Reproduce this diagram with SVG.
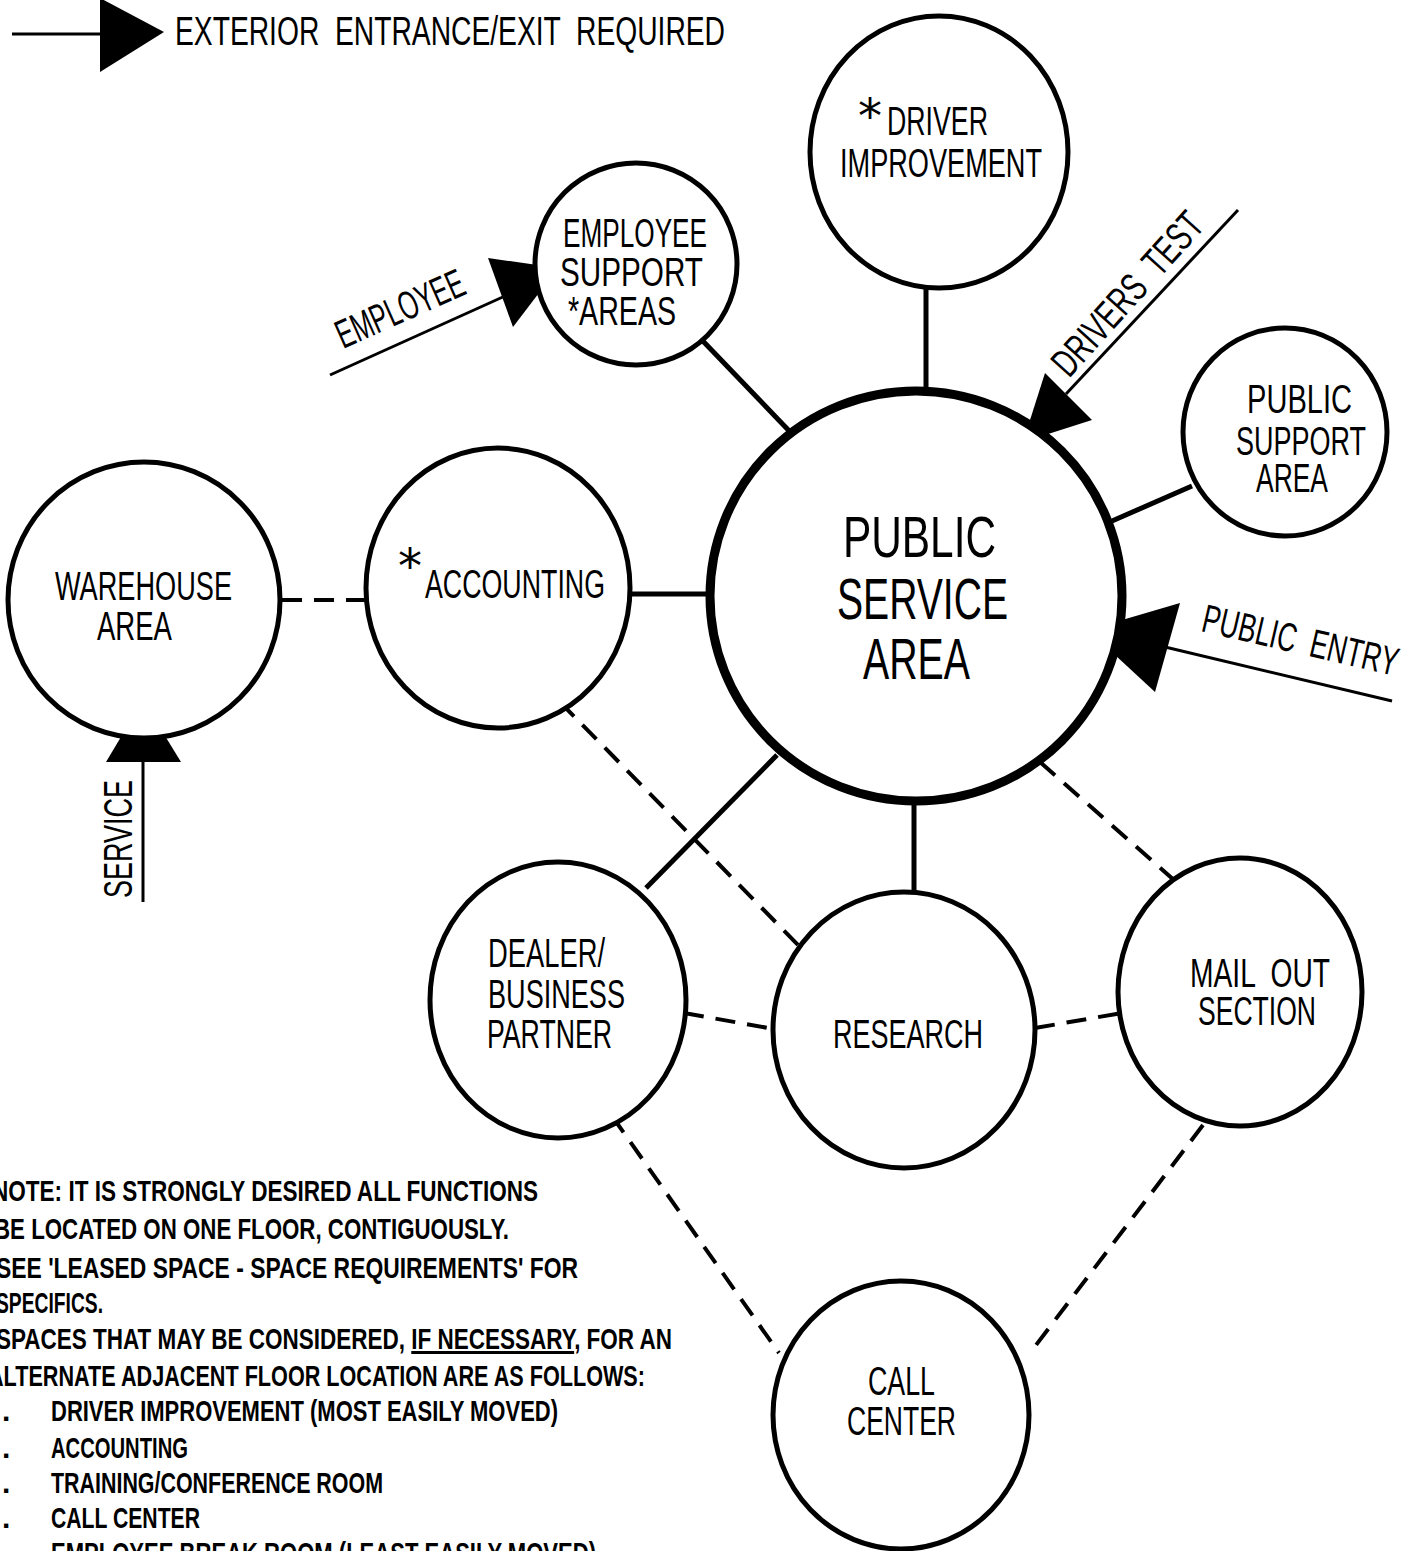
<svg xmlns="http://www.w3.org/2000/svg" width="1420" height="1551" viewBox="0 0 1420 1551">
<style>
.c{fill:#fff;stroke:#000;stroke-width:5}
.big{stroke-width:9}
.t{font-family:"Liberation Sans",Arial,sans-serif;font-size:40px;fill:#000}
.ast{font-family:"DejaVu Sans",sans-serif;font-size:48px;fill:#000}
.pt{font-size:57px}
.n{font-family:"Liberation Sans",Arial,sans-serif;font-size:30px;font-weight:bold;fill:#000}
.s{stroke:#000;stroke-width:5;fill:none}
.d{stroke:#000;stroke-width:4;fill:none;stroke-dasharray:20 12}
.a{stroke:#000;stroke-width:3;fill:none}
.h{fill:#000}
.pre{white-space:pre}
</style>
<rect width="1420" height="1551" fill="#fff"/>

<g id="legend">
<line class="a" x1="12" y1="34" x2="102" y2="34"/>
<polygon class="h" points="100,-2 100,72 164,32"/>
<text class="t pre" x="175" y="45" font-size="38" textLength="550" lengthAdjust="spacingAndGlyphs">EXTERIOR  ENTRANCE/EXIT  REQUIRED</text>
</g>

<g id="connectors">
<line class="s" x1="700" y1="338" x2="795" y2="437"/>
<line class="s" x1="926" y1="286" x2="926" y2="392"/>
<line class="s" x1="1192" y1="486" x2="1112" y2="521"/>
<line class="s" x1="629" y1="594" x2="712" y2="594" stroke-width="7"/>
<line class="s" x1="646" y1="888" x2="777" y2="755"/>
<line class="s" x1="914" y1="893" x2="914" y2="799"/>
<line class="d" x1="282" y1="600" x2="366" y2="600" stroke-dasharray="18 12"/>
<line class="d" x1="560" y1="702" x2="801" y2="948"/>
<line class="d" x1="1040" y1="762" x2="1183" y2="888"/>
<line class="d" x1="684" y1="1013" x2="774" y2="1029"/>
<line class="d" x1="1035" y1="1028" x2="1122" y2="1013"/>
<line class="d" x1="612" y1="1116" x2="779" y2="1353"/>
<line class="d" x1="1203" y1="1125" x2="1030" y2="1353"/>
<!-- exterior entrances -->
<line class="a" x1="330" y1="375" x2="505" y2="296"/>
<polygon class="h" points="488,258 513,327 558,268"/>
<line class="a" x1="1238" y1="210" x2="1066" y2="394"/>
<polygon class="h" points="1045,373 1092,420 1023,442"/>
<line class="a" x1="1392" y1="701" x2="1165" y2="647"/>
<polygon class="h" points="1088,630 1180,603 1155,692"/>
<line class="a" x1="143" y1="902" x2="143" y2="760"/>
<polygon class="h" points="143,700 106,762 181,762"/>
<text class="t" font-size="38" transform="translate(343,349) rotate(-24)" textLength="137" lengthAdjust="spacingAndGlyphs">EMPLOYEE</text>
<text class="t pre" font-size="38" transform="translate(1069,379) rotate(-48)" textLength="205" lengthAdjust="spacingAndGlyphs">DRIVERS  TEST</text>
<text class="t pre" font-size="38" transform="translate(1200,631) rotate(13)" textLength="200" lengthAdjust="spacingAndGlyphs">PUBLIC  ENTRY</text>
<text class="t" transform="translate(132,898) rotate(-90)" textLength="118" lengthAdjust="spacingAndGlyphs">SERVICE</text>
</g>

<g id="driver-improvement">
<ellipse class="c" cx="939" cy="152" rx="129" ry="136"/>
<text class="t" x="858" y="135"><tspan class="ast" y="133">*</tspan><tspan x="887" y="135" textLength="101" lengthAdjust="spacingAndGlyphs">DRIVER</tspan></text>
<text class="t" x="840" y="177" textLength="202" lengthAdjust="spacingAndGlyphs">IMPROVEMENT</text>
</g>

<g id="employee-support">
<ellipse class="c" cx="636" cy="264" rx="101" ry="101"/>
<text class="t" x="563" y="247" textLength="144" lengthAdjust="spacingAndGlyphs">EMPLOYEE</text>
<text class="t" x="560" y="286" textLength="143" lengthAdjust="spacingAndGlyphs">SUPPORT</text>
<text class="t" x="568" y="325" textLength="108" lengthAdjust="spacingAndGlyphs">*AREAS</text>
</g>

<g id="public-support">
<ellipse class="c" cx="1285" cy="432" rx="102" ry="104"/>
<text class="t" x="1247" y="413" textLength="105" lengthAdjust="spacingAndGlyphs">PUBLIC</text>
<text class="t" x="1236" y="455" textLength="130" lengthAdjust="spacingAndGlyphs">SUPPORT</text>
<text class="t" x="1256" y="492" textLength="72" lengthAdjust="spacingAndGlyphs">AREA</text>
</g>

<g id="public-service">
<ellipse class="c big" cx="916" cy="596" rx="206" ry="205"/>
<text class="t pt" x="843" y="557" textLength="153" lengthAdjust="spacingAndGlyphs">PUBLIC</text>
<text class="t pt" x="837" y="619" textLength="171" lengthAdjust="spacingAndGlyphs">SERVICE</text>
<text class="t pt" x="863" y="679" textLength="107" lengthAdjust="spacingAndGlyphs">AREA</text>
</g>

<g id="warehouse">
<ellipse class="c" cx="144" cy="600" rx="136" ry="138"/>
<text class="t" x="55" y="600" textLength="177" lengthAdjust="spacingAndGlyphs">WAREHOUSE</text>
<text class="t" x="97" y="640" textLength="75" lengthAdjust="spacingAndGlyphs">AREA</text>
</g>

<g id="accounting">
<ellipse class="c" cx="498" cy="588" rx="132" ry="140"/>
<text class="t" x="398" y="598"><tspan class="ast" y="583">*</tspan><tspan x="425" y="598" textLength="180" lengthAdjust="spacingAndGlyphs">ACCOUNTING</tspan></text>
</g>

<g id="dealer">
<ellipse class="c" cx="558" cy="1000" rx="128" ry="138"/>
<text class="t" x="488" y="967" textLength="117" lengthAdjust="spacingAndGlyphs">DEALER/</text>
<text class="t" x="488" y="1008" textLength="137" lengthAdjust="spacingAndGlyphs">BUSINESS</text>
<text class="t" x="487" y="1048" textLength="125" lengthAdjust="spacingAndGlyphs">PARTNER</text>
</g>

<g id="research">
<ellipse class="c" cx="904" cy="1030" rx="131" ry="138"/>
<text class="t" x="833" y="1048" textLength="150" lengthAdjust="spacingAndGlyphs">RESEARCH</text>
</g>

<g id="mail-out">
<ellipse class="c" cx="1240" cy="992" rx="122" ry="134"/>
<text class="t pre" x="1190" y="987" textLength="140" lengthAdjust="spacingAndGlyphs">MAIL  OUT</text>
<text class="t" x="1198" y="1025" textLength="118" lengthAdjust="spacingAndGlyphs">SECTION</text>
</g>

<g id="call-center">
<ellipse class="c" cx="901" cy="1415" rx="128" ry="134"/>
<text class="t" x="868" y="1395" font-size="39" textLength="67" lengthAdjust="spacingAndGlyphs">CALL</text>
<text class="t" x="847" y="1435" font-size="39" textLength="109" lengthAdjust="spacingAndGlyphs">CENTER</text>
</g>

<g id="note">
<text class="n" x="-8" y="1201" textLength="546" lengthAdjust="spacingAndGlyphs">NOTE: IT IS STRONGLY DESIRED ALL FUNCTIONS</text>
<text class="n" x="-6" y="1239" textLength="515" lengthAdjust="spacingAndGlyphs">BE LOCATED ON ONE FLOOR, CONTIGUOUSLY.</text>
<text class="n" x="-4" y="1278" textLength="582" lengthAdjust="spacingAndGlyphs">SEE 'LEASED SPACE - SPACE REQUIREMENTS' FOR</text>
<text class="n" x="-4" y="1313" textLength="107" lengthAdjust="spacingAndGlyphs">SPECIFICS.</text>
<text class="n" x="-4" y="1349" textLength="676" lengthAdjust="spacingAndGlyphs">SPACES THAT MAY BE CONSIDERED, <tspan text-decoration="underline">IF NECESSARY</tspan>, FOR AN</text>
<text class="n" x="-12" y="1386" textLength="657" lengthAdjust="spacingAndGlyphs">ALTERNATE ADJACENT FLOOR LOCATION ARE AS FOLLOWS:</text>
<text class="n" x="2" y="1421">.<tspan x="51" textLength="507" lengthAdjust="spacingAndGlyphs">DRIVER IMPROVEMENT (MOST EASILY MOVED)</tspan></text>
<text class="n" x="2" y="1458">.<tspan x="51" textLength="137" lengthAdjust="spacingAndGlyphs">ACCOUNTING</tspan></text>
<text class="n" x="2" y="1493">.<tspan x="51" textLength="332" lengthAdjust="spacingAndGlyphs">TRAINING/CONFERENCE ROOM</tspan></text>
<text class="n" x="2" y="1528">.<tspan x="51" textLength="149" lengthAdjust="spacingAndGlyphs">CALL CENTER</tspan></text>
<text class="n" x="2" y="1563">.<tspan x="51" textLength="545" lengthAdjust="spacingAndGlyphs">EMPLOYEE BREAK ROOM (LEAST EASILY MOVED)</tspan></text>
</g>
</svg>
